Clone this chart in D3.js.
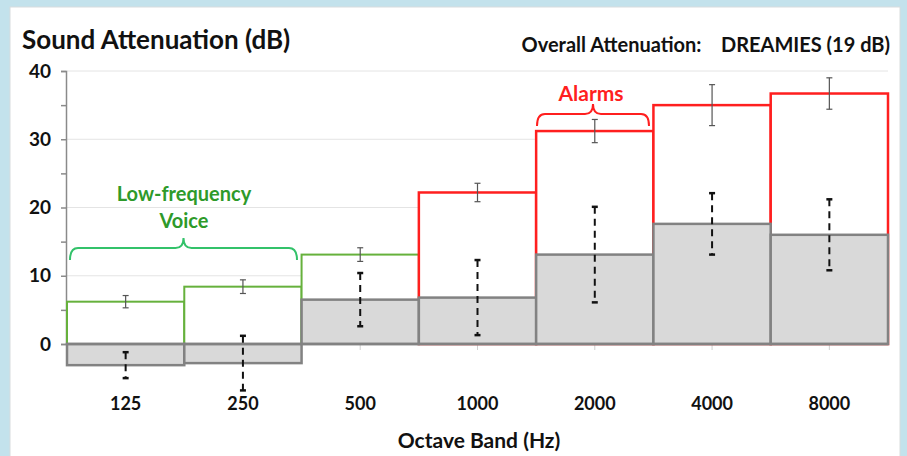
<!DOCTYPE html>
<html>
<head>
<meta charset="utf-8">
<script src="https://cdn.jsdelivr.net/npm/d3@7"></script>
<style>
  body { margin: 0; background: #c3e2ec; }
  svg { display: block; }
  text { font-family: Lato, "Open Sans", sans-serif; font-weight: bold; }
</style>
</head>
<body>
<svg id="chart" width="907" height="456"></svg>
<script>
// Octave bands and values (dB)
var bands = ["125", "250", "500", "1000", "2000", "4000", "8000"];
// open / outline bars with thin error bars
var topMean = [6.2, 8.4, 13.1, 22.2, 31.2, 35.0, 36.7];
var topErr  = [0.9, 1.0, 1.0, 1.35, 1.7, 3.0, 2.3];
// grey filled bars with dashed error bars
var greyMean = [-3.1, -2.8, 6.5, 6.8, 13.1, 17.6, 16.0];
var greyErr  = [1.9, 4.0, 3.9, 5.5, 7.0, 4.5, 5.2];
// which group each band belongs to (outline colour)
var bandGroup = ["voice", "voice", "voice", "alarm", "alarm", "alarm", "alarm"];
var yTicks = [0, 10, 20, 30, 40];

var colors = { voice: "#66b13c", alarm: "#ff1f1f" };

var $svg = d3.select("#chart");

// white panel
$svg.append("rect")
    .attr("x", 10).attr("y", 7)
    .attr("width", 890).attr("height", 460)
    .attr("fill", "#fff")
    .attr("stroke", "#d8dcdd");

var x = d3.scaleBand().domain(bands).range([67, 888]).padding(0);
var y = d3.scaleLinear().domain([0, 40]).range([344, 71]);

var $plot = $svg.append("g");

// gridlines
$plot.append("g")
    .selectAll("line")
    .data(yTicks.filter(d => d > 0))
    .join("line")
    .attr("x1", 66).attr("x2", 888)
    .attr("y1", d => y(d)).attr("y2", d => y(d))
    .attr("stroke", "#e4e4e4");

// y axis with minor ticks at 5s
var yAxis = d3.axisLeft(y)
    .tickValues(d3.range(0, 41, 5))
    .tickSize(5)
    .tickFormat(d => d % 10 === 0 ? d : "");
var $yAxis = $plot.append("g")
    .attr("transform", "translate(66,0)")
    .call(yAxis);
$yAxis.select(".domain").attr("stroke", "#8a8a8a").attr("stroke-width", 1.5);
$yAxis.selectAll(".tick line").attr("stroke", "#8a8a8a").attr("stroke-width", 1.5);
$yAxis.selectAll(".tick text")
    .attr("x", -15)
    .attr("fill", "#111")
    .style("font-size", "19px")
    .style("font-family", "Lato, sans-serif")
    .style("font-weight", "bold");

// category ticks under the zero line
$plot.append("g")
    .selectAll("line")
    .data(bands)
    .join("line")
    .attr("x1", d => x(d) + x.bandwidth() / 2)
    .attr("x2", d => x(d) + x.bandwidth() / 2)
    .attr("y1", y(0)).attr("y2", y(0) + 6)
    .attr("stroke", "#d0d0d0");

// outline bars (white fill, coloured border)
$plot.append("g")
    .selectAll("rect")
    .data(bands)
    .join("rect")
    .attr("x", d => x(d))
    .attr("width", x.bandwidth())
    .attr("y", (d, i) => y(topMean[i]))
    .attr("height", (d, i) => y(0) - y(topMean[i]))
    .attr("fill", "#fff")
    .attr("stroke", (d, i) => colors[bandGroup[i]])
    .attr("stroke-width", (d, i) => bandGroup[i] == "alarm" ? 2.5 : 2);

// grey bars
$plot.append("g")
    .selectAll("rect")
    .data(bands)
    .join("rect")
    .attr("x", d => x(d))
    .attr("width", x.bandwidth())
    .attr("y", (d, i) => y(Math.max(0, greyMean[i])))
    .attr("height", (d, i) => Math.abs(y(greyMean[i]) - y(0)))
    .attr("fill", "#d9d9d9")
    .attr("stroke", "#828282")
    .attr("stroke-width", 2.5);

// zero line
$plot.append("line")
    .attr("x1", 66).attr("x2", 888)
    .attr("y1", y(0)).attr("y2", y(0))
    .attr("stroke", "#828282").attr("stroke-width", 2.5);

// thin error bars on the outline bars
var $topErr = $plot.append("g").attr("stroke", "#555").attr("stroke-width", 1.2);
bands.forEach(function(b, i) {
    var cx = x(b) + x.bandwidth() / 2;
    var hi = y(topMean[i] + topErr[i]), lo = y(topMean[i] - topErr[i]);
    $topErr.append("line").attr("x1", cx).attr("x2", cx).attr("y1", hi).attr("y2", lo);
    $topErr.append("line").attr("x1", cx - 3).attr("x2", cx + 3).attr("y1", hi).attr("y2", hi);
    $topErr.append("line").attr("x1", cx - 3).attr("x2", cx + 3).attr("y1", lo).attr("y2", lo);
});

// dashed error bars on the grey bars
var $greyErr = $plot.append("g").attr("stroke", "#111").attr("stroke-width", 2);
bands.forEach(function(b, i) {
    var cx = x(b) + x.bandwidth() / 2;
    var hi = y(greyMean[i] + greyErr[i]), lo = y(greyMean[i] - greyErr[i]);
    $greyErr.append("line").attr("x1", cx).attr("x2", cx).attr("y1", hi).attr("y2", lo)
        .attr("stroke-dasharray", "7,5");
    $greyErr.append("line").attr("x1", cx - 3).attr("x2", cx + 3).attr("y1", hi).attr("y2", hi).attr("stroke-width", 2.5);
    $greyErr.append("line").attr("x1", cx - 3).attr("x2", cx + 3).attr("y1", lo).attr("y2", lo).attr("stroke-width", 2.5);
});

// curly brace path between x0 and x1, baseline yb, tip height h
function brace(x0, x1, yb, h) {
    var xm = (x0 + x1) / 2, r = 8;
    var yl = yb - h + 6; // horizontal level
    return `M${x0},${yb} Q${x0},${yl} ${x0 + r},${yl} L${xm - r},${yl} Q${xm},${yl} ${xm},${yl - 10}`
         + ` Q${xm},${yl} ${xm + r},${yl} L${x1 - r},${yl} Q${x1},${yl} ${x1},${yb}`;
}

// low-frequency voice brace
$plot.append("path")
    .attr("d", brace(70, 297, 260, 18))
    .attr("fill", "none").attr("stroke", "#33c26a").attr("stroke-width", 2);
$plot.append("text")
    .attr("x", 184).attr("y", 201)
    .attr("text-anchor", "middle").attr("fill", "#2e9a2a")
    .style("font-size", "20px")
    .text("Low-frequency");
$plot.append("text")
    .attr("x", 184).attr("y", 228)
    .attr("text-anchor", "middle").attr("fill", "#2e9a2a")
    .style("font-size", "20px")
    .text("Voice");

// alarms brace
$plot.append("path")
    .attr("d", brace(537, 649, 126, 18))
    .attr("fill", "none").attr("stroke", "#ff1f1f").attr("stroke-width", 2);
$plot.append("text")
    .attr("x", 591).attr("y", 101)
    .attr("text-anchor", "middle").attr("fill", "#ff1f1f")
    .style("font-size", "21px")
    .text("Alarms");

// x labels
$plot.append("g")
    .selectAll("text")
    .data(bands)
    .join("text")
    .attr("x", d => x(d) + x.bandwidth() / 2)
    .attr("y", 410)
    .attr("text-anchor", "middle")
    .attr("fill", "#111")
    .style("font-size", "18px")
    .text(d => d);

// titles
$svg.append("text")
    .attr("x", 22).attr("y", 49)
    .attr("fill", "#111")
    .style("font-size", "26px")
    .text("Sound Attenuation (dB)");
$svg.append("text")
    .attr("x", 890).attr("y", 52)
    .attr("text-anchor", "end")
    .attr("fill", "#111")
    .style("font-size", "20px")
    .attr("xml:space", "preserve")
    .text("Overall Attenuation:    DREAMIES (19 dB)");
$svg.append("text")
    .attr("x", 479).attr("y", 448)
    .attr("text-anchor", "middle")
    .attr("fill", "#111")
    .style("font-size", "21px")
    .text("Octave Band (Hz)");
</script>
</body>
</html>
